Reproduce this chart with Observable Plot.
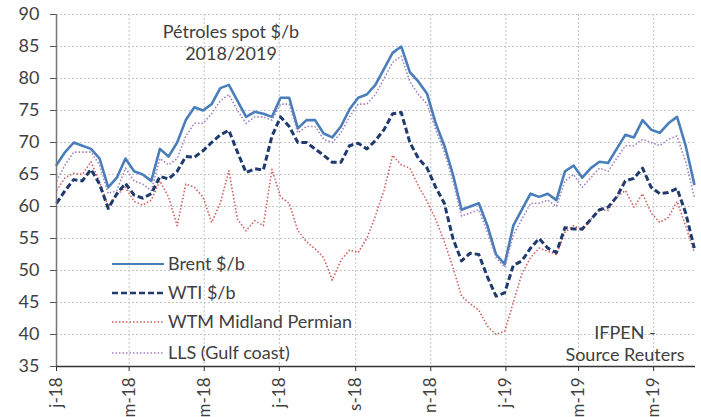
<!DOCTYPE html>
<html><head><meta charset="utf-8">
<script src="https://cdn.jsdelivr.net/npm/d3@7"></script>
<script src="https://cdn.jsdelivr.net/npm/@observablehq/plot@0.6"></script>
<style>
body{margin:0;background:#fff;}
#wrap{position:relative;width:701px;height:417px;font-family:Lato,"Open Sans",sans-serif;color:#404040;}
.t{position:absolute;font-size:18px;white-space:nowrap;transform:translate(-50%,-50%);color:#404040;}
</style></head><body><div id="wrap"></div>
<script>
const dates = ["2018-01-01","2018-01-08","2018-01-15","2018-01-22","2018-01-29","2018-02-05","2018-02-12","2018-02-19","2018-02-26","2018-03-05","2018-03-12","2018-03-19","2018-03-26","2018-04-02","2018-04-09","2018-04-16","2018-04-23","2018-04-30","2018-05-07","2018-05-14","2018-05-21","2018-05-28","2018-06-04","2018-06-11","2018-06-18","2018-06-25","2018-07-02","2018-07-09","2018-07-16","2018-07-23","2018-07-30","2018-08-06","2018-08-13","2018-08-20","2018-08-27","2018-09-03","2018-09-10","2018-09-17","2018-09-24","2018-10-01","2018-10-08","2018-10-15","2018-10-22","2018-10-29","2018-11-05","2018-11-12","2018-11-19","2018-11-26","2018-12-03","2018-12-10","2018-12-17","2018-12-24","2018-12-31","2019-01-07","2019-01-14","2019-01-21","2019-01-28","2019-02-04","2019-02-11","2019-02-18","2019-02-25","2019-03-04","2019-03-11","2019-03-18","2019-03-25","2019-04-01","2019-04-08","2019-04-15","2019-04-22","2019-04-29","2019-05-06","2019-05-13","2019-05-20","2019-05-27","2019-06-03"];
const brent = [66.5,68.5,70,69.5,69,67.5,63,64.5,67.5,65.5,65,64,69,67.8,70,73.5,75.5,75,76,78.5,79,76.5,74,74.8,74.5,74,77,77,72.2,73.5,73.5,71.4,70.8,72.5,75.2,77,77.5,79,81.5,84,85,81,79.5,77.6,73,69.5,65,59.5,60,60.5,57,52.5,51,57,59.5,62,61.5,62,61,65.5,66.4,64.5,66,67,66.8,69,71.2,70.8,73.5,72,71.5,73,74,69.5,63.5];
const wti = [60.5,62.5,64.2,64,65.8,63.5,59.7,62,63.6,61.8,61.3,62,64.7,64.3,65.5,67.8,67.7,68.7,70,71.2,71.9,68.5,65.3,65.9,65.7,71,74,72.5,70,70,69,68,66.9,66.9,69.5,69.9,69,70.3,72,74.5,74.7,70,67.5,66,63,60.5,55,51.5,52.7,52.5,49,46,46.5,50.8,51.5,53.5,55,53.5,52.8,56.7,56.5,56.5,58,59.5,59.9,61.5,64,64.4,66,63,62,62.2,62.8,59,53.5];
const wtm = [62.5,64.5,65.2,65,67,63.8,60,61.8,63,60.8,60.2,61,64,61.5,57,63.5,63,61.5,57.5,60.5,65.6,58,56.2,57.8,57,65.8,61.5,60.5,56.25,54.5,53.4,52,48.5,51.6,53.2,52.8,55,58.5,62.5,68,66.5,66,63.2,60.8,58,54.5,50.5,46,44.8,43.8,41.3,40,40.5,45,49.5,52,53.5,53,52.5,56,57,56.3,58,59.5,59.4,61.5,62.5,59.9,62,59,57.5,58.3,60.8,57,52.8];
const lls = [64,66.5,68.5,68.5,68.5,66.5,62,62.5,66,64,63.5,62.5,67.5,66.5,67.5,71,73,73,74.5,76.5,77.5,75,73,74,74,73.5,76,76,71.5,72.5,72.5,70.5,70,71.5,74,76,76,77.5,80,82.5,83.5,79.5,77.5,76,72,68.5,64,58.5,59,59.5,56,52,50.5,55.5,58,60.5,60.5,61,60,64,65,63,64.5,66,65.5,67.5,69.5,69.5,70.5,70,69.5,70.5,71,67,61.5];
const seriesNames = ["Brent $/b","WTI $/b","WTM Midland Permian","LLS (Gulf coast)"];
const yTicks = [35,40,45,50,55,60,65,70,75,80,85,90];
const xTickDates = ["2018-01-01","2018-03-01","2018-05-01","2018-07-01","2018-09-01","2018-11-01","2019-01-01","2019-03-01","2019-05-01"];
const xTickLabels = ["j-18","m-18","m-18","j-18","s-18","n-18","j-19","m-19","m-19"];

const parse = d3.utcParse("%Y-%m-%d");
const D = dates.map(parse);
const tickD = xTickDates.map(parse);
const labelOf = new Map(tickD.map((d,i)=>[+d, xTickLabels[i]]));
const mk = arr => arr.map((v,i)=>({date:D[i], v}));

const styles = [
  {stroke:"#4A7EBB", strokeWidth:2.6, dash:null, legendWidth:1.8},
  {stroke:"#1F3A6E", strokeWidth:3, dash:"6,3", legendWidth:2.6},
  {stroke:"#D0605C", strokeWidth:1.6, dash:"1.5,2", legendWidth:1.5},
  {stroke:"#A080C4", strokeWidth:1.6, dash:"1.5,2", legendWidth:1.5}
];
const dataSets = [brent, wti, wtm, lls];
const drawOrder = [2, 0, 3, 1];

const plot = Plot.plot({
  width:701, height:417,
  marginLeft:56, marginRight:6, marginTop:14, marginBottom:51,
  style:{fontFamily:"Lato, 'Open Sans', sans-serif", fontSize:"17px", color:"#404040", background:"#fff"},
  x:{type:"utc", domain:[parse("2018-01-01"), parse("2019-06-04")]},
  y:{domain:[35,90]},
  marks:[
    Plot.gridY(yTicks, {stroke:"#c4c4c4", strokeOpacity:1, strokeDasharray:"2,2"}),
    Plot.gridX(tickD, {stroke:"#c4c4c4", strokeOpacity:1, strokeDasharray:"2,2"}),
    ...drawOrder.map(k => Plot.line(mk(dataSets[k]), {x:"date", y:"v", stroke:styles[k].stroke, strokeWidth:styles[k].strokeWidth, strokeDasharray:styles[k].dash || undefined, strokeLinecap: styles[k].dash ? "butt" : "round"})),
    Plot.axisY(yTicks, {tickSize:6, tickPadding:11, fontSize:18, label:null, stroke:"#555"}),
    Plot.axisX(tickD, {tickSize:5, tickPadding:6, tickRotate:-90, fontSize:17, label:null, tickFormat:d=>labelOf.get(+d), stroke:"#333"}),
    Plot.ruleX([parse("2018-01-01")], {stroke:"#777", strokeWidth:1.5}),
    Plot.ruleY([35], {stroke:"#333", strokeWidth:1.5})
  ]
});
document.getElementById("wrap").appendChild(plot);

const svg = d3.select(plot);
svg.selectAll('g[aria-label="line"]').each(function(_, j){
  const s = styles[drawOrder[j]];
  if (s && s.dash) d3.select(this).attr("stroke-linecap","butt").selectAll("path").attr("stroke-dasharray", s.dash).attr("stroke-linecap","butt");
});

const rowsY = [264, 293, 322, 353];
const g = svg.append("g").attr("text-anchor","start");
seriesNames.forEach((name,i)=>{
  const s = styles[i];
  g.append("line").attr("x1",112).attr("x2",164).attr("y1",rowsY[i]).attr("y2",rowsY[i])
    .attr("stroke",s.stroke).attr("stroke-width",s.legendWidth).attr("stroke-dasharray",s.dash);
  g.append("text").attr("x",168).attr("y",rowsY[i]).attr("dy","0.35em").attr("text-anchor","start")
    .attr("font-size",18).attr("fill","#404040").text(name);
});

const wrap = document.getElementById("wrap");
[["Pétroles spot $/b",231,31],["2018/2019",231,53],["IFPEN -",625,332],["Source Reuters",625,354]].forEach(([t,x,y])=>{
  const d = document.createElement("div");
  d.className="t"; d.textContent=t; d.style.left=x+"px"; d.style.top=y+"px";
  wrap.appendChild(d);
});
</script>
</body></html>
